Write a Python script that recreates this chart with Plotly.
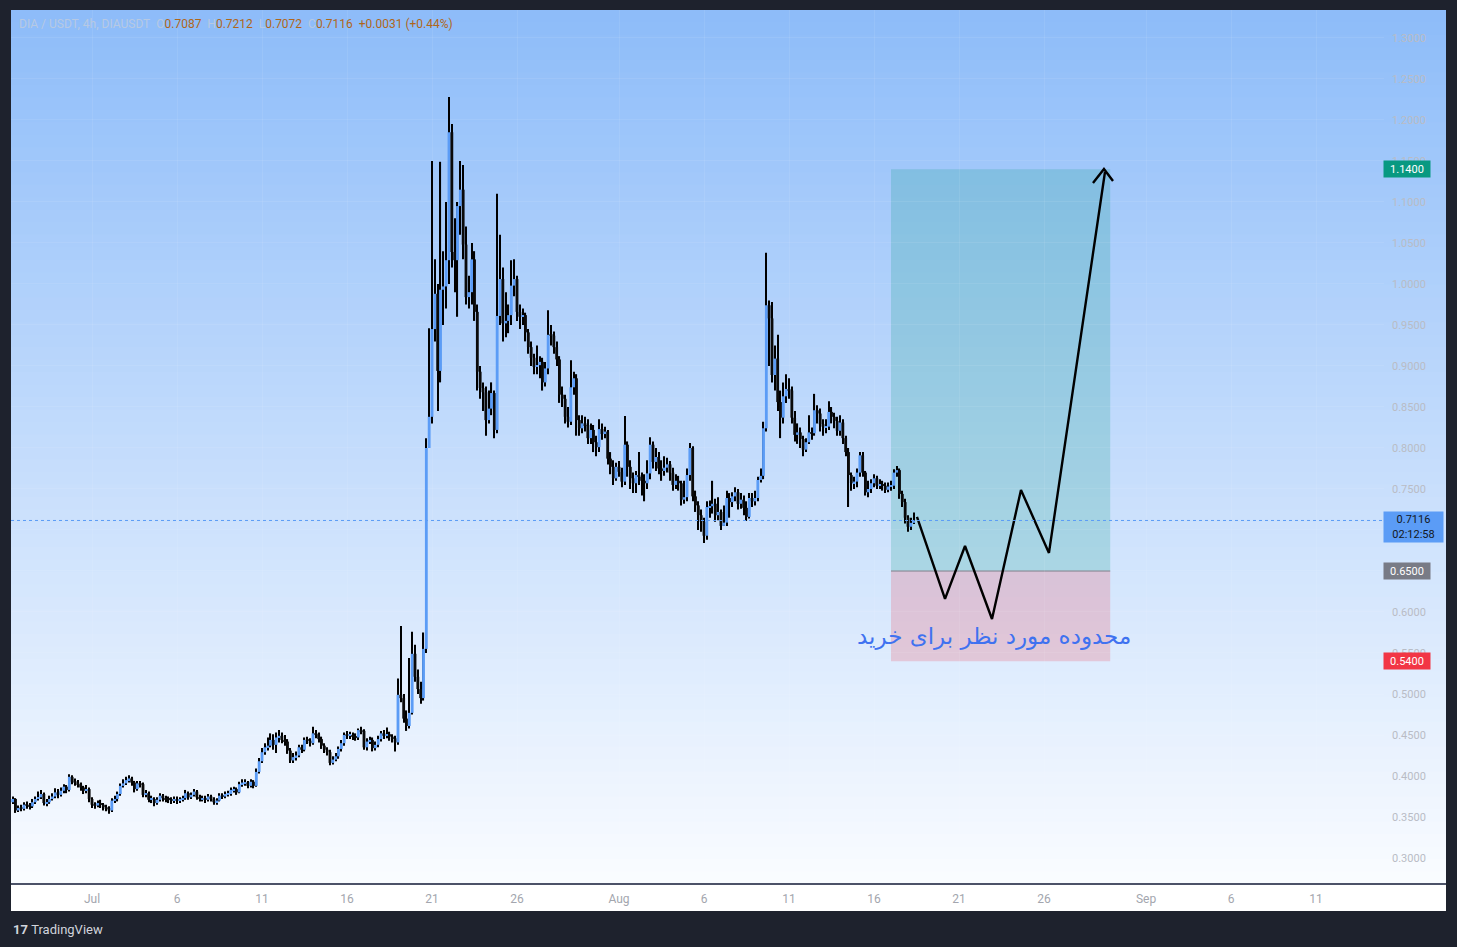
import plotly.graph_objects as go
import pandas as pd

# ---------------- data (4h candles, DIA/USDT) ----------------
start_time = "2024-06-26 08:00"
first_open = 0.368

close = [
    0.372, 0.358, 0.361, 0.360,                      # Jun 26
    0.365, 0.364, 0.363, 0.368, 0.372, 0.374,        # Jun 27
    0.378, 0.367, 0.368, 0.372, 0.375, 0.380,        # Jun 28
    0.377, 0.382, 0.387, 0.383, 0.399, 0.393,        # Jun 29
    0.392, 0.390, 0.386, 0.382, 0.384, 0.372,        # Jun 30
    0.365, 0.364, 0.367, 0.365, 0.362, 0.361,        # Jul 1
    0.358, 0.370, 0.372, 0.378, 0.388, 0.391,        # Jul 2
    0.395, 0.397, 0.392, 0.384, 0.391, 0.390,        # Jul 3
    0.377, 0.379, 0.371, 0.372, 0.367, 0.371,        # Jul 4
    0.376, 0.373, 0.372, 0.371, 0.370, 0.372,        # Jul 5
    0.370, 0.371, 0.373, 0.379, 0.374, 0.377,        # Jul 6
    0.381, 0.374, 0.372, 0.373, 0.371, 0.375,        # Jul 7
    0.372, 0.368, 0.370, 0.376, 0.375, 0.378,        # Jul 8
    0.378, 0.383, 0.384, 0.380, 0.390, 0.392,        # Jul 9
    0.392, 0.388, 0.393, 0.388, 0.405, 0.418,        # Jul 10
    0.429, 0.435, 0.437, 0.444, 0.438, 0.447,        # Jul 11
    0.449, 0.444, 0.442, 0.431, 0.419, 0.423,        # Jul 12
    0.425, 0.435, 0.432, 0.444, 0.443, 0.440,        # Jul 13
    0.452, 0.451, 0.445, 0.437, 0.432, 0.429,        # Jul 14
    0.416, 0.420, 0.424, 0.433, 0.440, 0.450,        # Jul 15
    0.449, 0.450, 0.448, 0.447, 0.456, 0.455,        # Jul 16
    0.435, 0.442, 0.444, 0.434, 0.438, 0.445,        # Jul 17
    0.452, 0.449, 0.451, 0.448, 0.446, 0.441,        # Jul 18
    0.499, 0.495, 0.470, 0.461, 0.477, 0.549,        # Jul 19
    0.521, 0.506, 0.495, 0.555, 0.800, 0.838,        # Jul 20
    0.945, 0.988, 0.894, 0.993, 0.997, 1.029,        # Jul 21
    1.185, 1.039, 1.029, 1.095, 1.115, 1.048,        # Jul 22
    0.984, 0.990, 1.030, 0.966, 0.893, 0.873,        # Jul 23
    0.868, 0.834, 0.848, 0.867, 0.822, 0.961,        # Jul 24
    1.006, 0.952, 0.955, 0.962, 0.998, 1.006,        # Jul 25
    0.966, 0.960, 0.962, 0.941, 0.923, 0.910,        # Jul 26
    0.899, 0.901, 0.905, 0.880, 0.897, 0.938,        # Jul 27
    0.937, 0.923, 0.908, 0.865, 0.860, 0.838,        # Jul 28
    0.832, 0.874, 0.885, 0.834, 0.824, 0.830,        # Jul 29
    0.828, 0.812, 0.822, 0.807, 0.801, 0.823,        # Jul 30
    0.817, 0.820, 0.787, 0.777, 0.763, 0.777,        # Jul 31
    0.771, 0.759, 0.804, 0.777, 0.763, 0.757,        # Aug 1
    0.767, 0.765, 0.760, 0.757, 0.769, 0.804,        # Aug 2
    0.783, 0.789, 0.775, 0.772, 0.776, 0.780,        # Aug 3
    0.770, 0.755, 0.760, 0.757, 0.737, 0.740,        # Aug 4
    0.767, 0.800, 0.741, 0.730, 0.718, 0.710,        # Aug 5
    0.693, 0.728, 0.729, 0.732, 0.718, 0.722,        # Aug 6
    0.705, 0.709, 0.739, 0.734, 0.741, 0.746,        # Aug 7
    0.732, 0.737, 0.727, 0.716, 0.739, 0.735,        # Aug 8
    0.739, 0.761, 0.766, 0.824, 0.974, 0.958,        # Aug 9
    0.889, 0.909, 0.856, 0.837, 0.863, 0.872,        # Aug 10
    0.870, 0.837, 0.816, 0.819, 0.811, 0.798,        # Aug 11
    0.807, 0.819, 0.818, 0.846, 0.842, 0.829,        # Aug 12
    0.826, 0.826, 0.844, 0.838, 0.833, 0.821,        # Aug 13
    0.831, 0.812, 0.795, 0.767, 0.757, 0.759,        # Aug 14
    0.770, 0.791, 0.770, 0.746, 0.750, 0.757,        # Aug 15
    0.763, 0.754, 0.756, 0.754, 0.749, 0.753,        # Aug 16
    0.754, 0.770, 0.773, 0.744, 0.734, 0.715,        # Aug 17
    0.704, 0.7087, 0.7116,                           # Aug 18
]

high = [
    0.375, 0.373, 0.364, 0.365,
    0.368, 0.369, 0.367, 0.372, 0.375, 0.381,
    0.383, 0.380, 0.372, 0.376, 0.379, 0.385,
    0.384, 0.386, 0.390, 0.389, 0.402, 0.401,
    0.397, 0.395, 0.392, 0.388, 0.389, 0.386,
    0.374, 0.368, 0.370, 0.371, 0.367, 0.365,
    0.363, 0.373, 0.376, 0.381, 0.391, 0.396,
    0.399, 0.401, 0.399, 0.394, 0.394, 0.394,
    0.392, 0.383, 0.381, 0.376, 0.374, 0.374,
    0.379, 0.378, 0.376, 0.375, 0.374, 0.375,
    0.375, 0.374, 0.376, 0.383, 0.381, 0.380,
    0.384, 0.383, 0.377, 0.376, 0.376, 0.378,
    0.377, 0.374, 0.373, 0.379, 0.379, 0.381,
    0.382, 0.386, 0.387, 0.386, 0.393, 0.396,
    0.396, 0.394, 0.396, 0.395, 0.409, 0.422,
    0.434, 0.440, 0.447, 0.452, 0.451, 0.453,
    0.456, 0.453, 0.450, 0.445, 0.434, 0.428,
    0.430, 0.438, 0.438, 0.447, 0.448, 0.446,
    0.460, 0.456, 0.453, 0.448, 0.440, 0.435,
    0.432, 0.424, 0.428, 0.436, 0.444, 0.453,
    0.455, 0.454, 0.453, 0.452, 0.458, 0.460,
    0.457, 0.446, 0.448, 0.447, 0.442, 0.449,
    0.455, 0.456, 0.459, 0.454, 0.451, 0.449,
    0.519, 0.583, 0.500, 0.480, 0.544, 0.576,
    0.560, 0.530, 0.515, 0.575, 0.812, 0.946,
    1.150, 1.030, 1.000, 1.149, 1.040, 1.100,
    1.228, 1.195, 1.080, 1.100, 1.150, 1.145,
    1.070, 1.010, 1.050, 1.040, 0.975, 0.900,
    0.880, 0.875, 0.870, 0.880, 0.870, 1.110,
    1.060, 1.020, 0.990, 0.975, 1.029, 1.030,
    1.010, 0.975, 0.970, 0.965, 0.945, 0.930,
    0.915, 0.925, 0.912, 0.910, 0.905, 0.968,
    0.950, 0.942, 0.930, 0.912, 0.875, 0.865,
    0.850, 0.907, 0.893, 0.890, 0.840, 0.840,
    0.838, 0.835, 0.830, 0.828, 0.815, 0.835,
    0.830, 0.826, 0.822, 0.795, 0.785, 0.782,
    0.784, 0.776, 0.839, 0.808, 0.785, 0.770,
    0.772, 0.795, 0.770, 0.768, 0.785, 0.813,
    0.808, 0.800, 0.795, 0.785, 0.790, 0.788,
    0.784, 0.776, 0.768, 0.766, 0.760, 0.760,
    0.775, 0.806, 0.802, 0.748, 0.735, 0.725,
    0.715, 0.735, 0.736, 0.760, 0.738, 0.740,
    0.725, 0.730, 0.748, 0.745, 0.746, 0.752,
    0.750, 0.745, 0.742, 0.735, 0.745, 0.745,
    0.748, 0.765, 0.775, 0.832, 1.038, 0.980,
    0.978, 0.925, 0.938, 0.870, 0.880, 0.890,
    0.885, 0.875, 0.845, 0.830, 0.825, 0.815,
    0.812, 0.840, 0.825, 0.866, 0.852, 0.848,
    0.835, 0.835, 0.857, 0.850, 0.843, 0.838,
    0.840, 0.835, 0.815, 0.800, 0.770, 0.765,
    0.775, 0.795, 0.795, 0.772, 0.760, 0.762,
    0.768, 0.766, 0.762, 0.760, 0.758, 0.758,
    0.760, 0.774, 0.778, 0.775, 0.748, 0.738,
    0.718, 0.715, 0.7212,
]

low = [
    0.366, 0.355, 0.356, 0.357,
    0.358, 0.360, 0.359, 0.361, 0.366, 0.370,
    0.372, 0.364, 0.363, 0.366, 0.370, 0.373,
    0.373, 0.375, 0.379, 0.379, 0.381, 0.390,
    0.388, 0.386, 0.382, 0.378, 0.379, 0.368,
    0.361, 0.360, 0.362, 0.361, 0.358, 0.357,
    0.354, 0.356, 0.367, 0.369, 0.376, 0.386,
    0.389, 0.392, 0.388, 0.380, 0.382, 0.386,
    0.374, 0.374, 0.368, 0.367, 0.363, 0.365,
    0.369, 0.369, 0.368, 0.367, 0.366, 0.367,
    0.366, 0.367, 0.369, 0.371, 0.371, 0.372,
    0.375, 0.371, 0.369, 0.369, 0.367, 0.369,
    0.369, 0.365, 0.365, 0.369, 0.372, 0.373,
    0.375, 0.376, 0.380, 0.377, 0.379, 0.387,
    0.388, 0.385, 0.386, 0.385, 0.387, 0.403,
    0.416, 0.426, 0.431, 0.435, 0.432, 0.428,
    0.441, 0.440, 0.437, 0.427, 0.416, 0.416,
    0.419, 0.423, 0.428, 0.430, 0.439, 0.436,
    0.438, 0.446, 0.441, 0.433, 0.428, 0.425,
    0.413, 0.414, 0.418, 0.421, 0.430, 0.437,
    0.445, 0.445, 0.444, 0.443, 0.444, 0.451,
    0.432, 0.431, 0.439, 0.430, 0.431, 0.435,
    0.442, 0.445, 0.446, 0.443, 0.441, 0.430,
    0.438, 0.490, 0.465, 0.455, 0.458, 0.475,
    0.515, 0.500, 0.488, 0.492, 0.550, 0.825,
    0.830, 0.930, 0.845, 0.880, 0.950, 0.970,
    1.000, 1.020, 0.990, 0.960, 1.060, 1.030,
    0.975, 0.970, 0.975, 0.955, 0.870, 0.860,
    0.845, 0.815, 0.830, 0.840, 0.812, 0.818,
    0.950, 0.930, 0.935, 0.940, 0.950, 0.985,
    0.955, 0.945, 0.950, 0.930, 0.915, 0.900,
    0.890, 0.890, 0.885, 0.870, 0.875, 0.890,
    0.925, 0.915, 0.900, 0.855, 0.850, 0.830,
    0.825, 0.828, 0.865, 0.815, 0.815, 0.818,
    0.820, 0.805, 0.805, 0.795, 0.790, 0.795,
    0.810, 0.812, 0.780, 0.768, 0.755, 0.760,
    0.765, 0.752, 0.755, 0.765, 0.750, 0.745,
    0.745, 0.755, 0.742, 0.735, 0.750, 0.762,
    0.775, 0.772, 0.768, 0.760, 0.766, 0.770,
    0.760, 0.748, 0.750, 0.748, 0.730, 0.732,
    0.735, 0.760, 0.735, 0.722, 0.700, 0.698,
    0.684, 0.688, 0.715, 0.720, 0.710, 0.712,
    0.700, 0.705, 0.705, 0.715, 0.728, 0.735,
    0.725, 0.726, 0.718, 0.711, 0.714, 0.728,
    0.730, 0.735, 0.758, 0.762, 0.820, 0.900,
    0.880, 0.870, 0.845, 0.812, 0.830, 0.855,
    0.860, 0.830, 0.808, 0.805, 0.800, 0.790,
    0.795, 0.805, 0.810, 0.815, 0.830, 0.820,
    0.815, 0.818, 0.822, 0.830, 0.824, 0.815,
    0.815, 0.805, 0.790, 0.728, 0.748, 0.750,
    0.752, 0.765, 0.765, 0.742, 0.740, 0.745,
    0.752, 0.750, 0.750, 0.748, 0.745, 0.746,
    0.748, 0.750, 0.765, 0.738, 0.728, 0.708,
    0.698, 0.700, 0.7072,
]

# long position tool
pos_start = "2024-08-17 00:00"
pos_end = "2024-08-29 21:30"
entry_price = 0.65
target_price = 1.14
stop_price = 0.54

# projected path drawn by the author
path_time = ["2024-08-18 12:40", "2024-08-20 04:15", "2024-08-21 08:30",
             "2024-08-22 22:35", "2024-08-24 15:30", "2024-08-26 07:00",
             "2024-08-29 14:05"]
path_price = [0.7159, 0.6159, 0.6805, 0.5915, 0.7488, 0.6720, 1.1366]
arrow_time = ["2024-08-28 21:10", "2024-08-29 12:40", "2024-08-30 01:25"]
arrow_price = [1.1232, 1.1402, 1.1256]

last_price = 0.7116
countdown = "02:12:58"

x_tick_vals = ["2024-07-01", "2024-07-06", "2024-07-11", "2024-07-16", "2024-07-21",
               "2024-07-26", "2024-08-01", "2024-08-06", "2024-08-11", "2024-08-16",
               "2024-08-21", "2024-08-26", "2024-09-01", "2024-09-06", "2024-09-11"]
x_tick_text = ["Jul", "6", "11", "16", "21", "26", "Aug", "6", "11", "16",
               "21", "26", "Sep", "6", "11"]
y_tick_vals = [0.30, 0.35, 0.40, 0.45, 0.50, 0.55, 0.60, 0.65, 0.70, 0.75, 0.80,
               0.85, 0.90, 0.95, 1.00, 1.05, 1.10, 1.15, 1.20, 1.25, 1.30]
y_tick_text = ["%.4f" % v for v in y_tick_vals]

annotation_text = "محدوده مورد نظر برای خرید"

# ---------------- figure ----------------
W, H = 1457, 947
L_M, R_M, T_M, B_M = 11, 73, 10, 63
plot_w = W - L_M - R_M
plot_h = H - T_M - B_M

times = pd.date_range(start_time, periods=len(close), freq="4h")
opens = [first_open] + close[:-1]
BAR_MS = 4 * 3600 * 1000
UP = "#5b9cf6"
DOWN = "#0a0a0a"

body_base, body_len, body_col = [], [], []
min_body = 0.0014
for o, c in zip(opens, close):
    lo_, hi_ = min(o, c), max(o, c)
    d = hi_ - lo_
    if d < min_body:
        lo_ -= (min_body - d) / 2
        d = min_body
    body_base.append(lo_)
    body_len.append(d)
    body_col.append(UP if c >= o else DOWN)

fig = go.Figure()
fig.add_trace(go.Bar(x=times, y=[h - l for h, l in zip(high, low)], base=low,
                     width=BAR_MS * 0.4, marker=dict(color="#000000", line=dict(width=0)),
                     hoverinfo="skip", showlegend=False))
fig.add_trace(go.Bar(x=times, y=body_len, base=body_base, width=BAR_MS * 1.0,
                     marker=dict(color=body_col, line=dict(width=0)),
                     hoverinfo="skip", showlegend=False))
fig.add_trace(go.Scatter(x=pd.to_datetime(path_time), y=path_price, mode="lines",
                         line=dict(color="#000000", width=2.4), hoverinfo="skip",
                         showlegend=False))
fig.add_trace(go.Scatter(x=pd.to_datetime(arrow_time), y=arrow_price, mode="lines",
                         line=dict(color="#000000", width=2.4), hoverinfo="skip",
                         showlegend=False))

shapes = []
# gradient background (plot + price scale)
top_rgb = (141, 188, 249)
bot_rgb = (250, 252, 255)
n_bands = 70
x_right = (W - 11 - L_M) / plot_w
for i in range(n_bands):
    t = (i + 0.5) / n_bands
    col = tuple(round(top_rgb[k] + (bot_rgb[k] - top_rgb[k]) * t) for k in range(3))
    y1 = 1 - i / n_bands
    y0 = 1 - (i + 1) / n_bands - 0.001
    shapes.append(dict(type="rect", xref="paper", yref="paper", x0=0, x1=x_right,
                       y0=max(y0, 0), y1=y1, line=dict(width=0),
                       fillcolor="rgb(%d,%d,%d)" % col, layer="below"))
# white time scale strip
shapes.append(dict(type="rect", xref="paper", yref="paper", x0=0, x1=x_right,
                   y0=-27 / plot_h, y1=0, line=dict(width=0), fillcolor="#ffffff",
                   layer="below"))
# position zones
shapes.append(dict(type="rect", xref="x", yref="y", x0=pos_start, x1=pos_end,
                   y0=entry_price, y1=target_price, line=dict(width=0),
                   fillcolor="rgba(8,153,129,0.2)", layer="below"))
shapes.append(dict(type="rect", xref="x", yref="y", x0=pos_start, x1=pos_end,
                   y0=stop_price, y1=entry_price, line=dict(width=0),
                   fillcolor="rgba(242,54,69,0.2)", layer="below"))
shapes.append(dict(type="line", xref="x", yref="y", x0=pos_start, x1=pos_end,
                   y0=entry_price, y1=entry_price, line=dict(color="#787b86", width=1),
                   layer="below"))
# last price dotted line
shapes.append(dict(type="line", xref="paper", yref="y", x0=0, x1=1, y0=last_price,
                   y1=last_price, line=dict(color="#5b9cf6", width=1, dash="dot")))
# bottom axis line
shapes.append(dict(type="line", xref="paper", yref="paper", x0=0, x1=x_right, y0=0,
                   y1=0, line=dict(color="#101a36", width=1.5)))

annotations = []
hdr = ("<span style='color:#b7c9e3'>DIA / USDT, 4h, DIAUSDT</span>\u00a0\u00a0"
       "<span style='color:#b7c9e3'>O</span><span style='color:#b0661a'>0.7087</span>\u00a0\u00a0"
       "<span style='color:#b7c9e3'>H</span><span style='color:#b0661a'>0.7212</span>\u00a0\u00a0"
       "<span style='color:#b7c9e3'>L</span><span style='color:#b0661a'>0.7072</span>\u00a0\u00a0"
       "<span style='color:#b7c9e3'>C</span><span style='color:#b0661a'>0.7116</span>\u00a0\u00a0"
       "<span style='color:#b0661a'>+0.0031 (+0.44%)</span>")
annotations.append(dict(xref="paper", yref="paper", x=(17 - L_M) / plot_w,
                        y=1 - (24 - T_M) / plot_h, xanchor="left", yanchor="middle",
                        text=hdr, showarrow=False,
                        font=dict(family="Roboto", size=12, color="#b0661a")))
annotations.append(dict(xref="x", yref="y", x="2024-08-23 02:00", y=0.5707,
                        text=annotation_text, showarrow=False, xanchor="center",
                        yanchor="middle",
                        font=dict(family="DejaVu Sans", size=23, color="#3f72f0")))


def price_box(price, text, bg, fg, w=42, h=12, yshift=0, yanchor="middle"):
    return dict(xref="paper", yref="y", x=1, y=price, xanchor="left", yanchor=yanchor,
                xshift=-1, yshift=yshift, text=text, showarrow=False, bgcolor=bg,
                width=w, height=h, borderpad=2, align="center",
                font=dict(family="Roboto", size=11, color=fg))


annotations.append(price_box(target_price, "%.4f" % target_price, "#089981", "#ffffff"))
annotations.append(price_box(entry_price, "%.4f" % entry_price, "#787b86", "#ffffff"))
annotations.append(price_box(stop_price, "%.4f" % stop_price, "#f23645", "#ffffff"))
annotations.append(price_box(last_price, "%.4f<br>%s" % (last_price, countdown),
                             "#5b9cf6", "#131722", w=55, h=26, yshift=9, yanchor="top"))
annotations.append(dict(xref="paper", yref="paper", x=(11 - L_M) / plot_w,
                        y=-(929 - 884) / plot_h, xanchor="left", yanchor="middle",
                        text="<b>17</b>\u00a0TradingView", showarrow=False,
                        font=dict(family="Roboto", size=13, color="#d1d4dc")))

fig.update_layout(
    width=W, height=H,
    margin=dict(l=L_M, r=R_M, t=T_M, b=B_M, pad=0),
    paper_bgcolor="#1e222d",
    plot_bgcolor="rgba(0,0,0,0)",
    barmode="overlay",
    showlegend=False,
    shapes=shapes,
    annotations=annotations,
    hovermode=False,
    xaxis=dict(type="date", range=["2024-06-26 05:39", "2024-09-15 00:00"],
               tickmode="array", tickvals=x_tick_vals, ticktext=x_tick_text,
               tickfont=dict(family="Liberation Sans Narrow, Roboto", size=12,
                             color="#a3a6ae"),
               showgrid=True, gridcolor="rgba(255,255,255,0.08)", gridwidth=1,
               zeroline=False, showline=False, ticks="", ticklabelstandoff=6,
               fixedrange=True),
    yaxis=dict(range=[0.2683, 1.3341], side="right", tickmode="array",
               tickvals=y_tick_vals, ticktext=y_tick_text,
               tickfont=dict(family="Roboto", size=11, color="#b9bcc5"),
               showgrid=True, gridcolor="rgba(255,255,255,0.08)", gridwidth=1,
               zeroline=False, showline=False, ticks="", ticklabelstandoff=7,
               fixedrange=True),
)

fig.write_html("out.html", config={"displayModeBar": False},
               post_script="document.body.style.margin='0px';"
                           "document.body.style.background='#1e222d';")
